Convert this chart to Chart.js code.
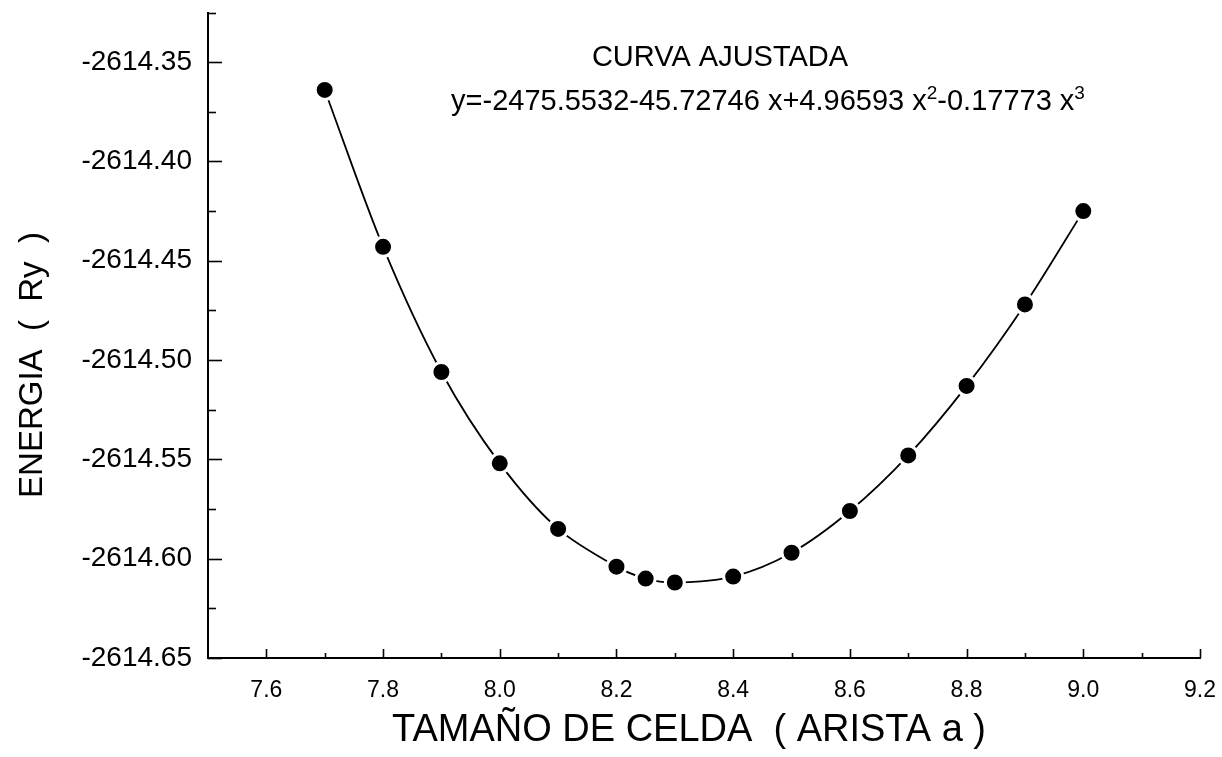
<!DOCTYPE html>
<html>
<head>
<meta charset="utf-8">
<script src="https://cdn.jsdelivr.net/npm/chart.js@4/dist/chart.umd.min.js"></script>
<style>
  html, body { margin: 0; padding: 0; background: #fff; }
  #wrap { width: 1222px; height: 757px; position: relative; }
</style>
</head>
<body>
<div id="wrap"><canvas id="c"></canvas></div>
<script>
// Cell size (lattice edge a) and total energy in Rydberg
const cellSize = [7.7, 7.8, 7.9, 8.0, 8.1, 8.2, 8.25, 8.3, 8.4, 8.5, 8.6, 8.7, 8.8, 8.9, 9.0];
const energy = [-2614.364, -2614.443, -2614.506, -2614.552, -2614.585, -2614.604, -2614.610,
                -2614.612, -2614.609, -2614.597, -2614.576, -2614.548, -2614.513, -2614.472, -2614.425];

// Axis tick labels
const xTicks = [7.6, 7.8, 8.0, 8.2, 8.4, 8.6, 8.8, 9.0, 9.2];
const yTicks = [-2614.65, -2614.60, -2614.55, -2614.50, -2614.45, -2614.40, -2614.35];

// Texts
const xTitle = 'TAMAÑO DE CELDA  ( ARISTA a )';
const yTitle = 'ENERGIA  (  Ry  )';
const fitTitle = 'CURVA AJUSTADA';
// [text, isSuperscript]
const fitEquation = [
  ['y=-2475.5532-45.72746 x+4.96593 x', false], ['2', true],
  ['-0.17773 x', false], ['3', true]
];

const FONT = '"Liberation Sans", Arial, Helvetica, sans-serif';

// Inward tick marks (major + minor), axis titles and the fitted-curve note
const axisDecor = {
  id: 'axisDecor',
  afterDraw(chart) {
    const { ctx, scales: { x, y } } = chart;
    ctx.save();
    ctx.strokeStyle = '#000';
    ctx.lineWidth = 1.6;
    ctx.lineCap = 'butt';

    const left = x.left, bottom = y.bottom;
    // y-axis ticks pointing right
    const yHalf = (yTicks[1] - yTicks[0]) / 2;
    yTicks.forEach(v => {
      const py = Math.round(y.getPixelForValue(v)) + 0.5;
      ctx.beginPath(); ctx.moveTo(left, py); ctx.lineTo(left + 14, py); ctx.stroke();
      const m = v + yHalf;
      if (m <= y.max + 1e-9) {
        const pm = Math.round(y.getPixelForValue(m)) + 0.5;
        ctx.beginPath(); ctx.moveTo(left, pm); ctx.lineTo(left + 8, pm); ctx.stroke();
      }
    });
    // x-axis ticks pointing up
    const xHalf = (xTicks[1] - xTicks[0]) / 2;
    xTicks.forEach(v => {
      const px = Math.round(x.getPixelForValue(v)) + 0.5;
      ctx.beginPath(); ctx.moveTo(px, bottom); ctx.lineTo(px, bottom - 9); ctx.stroke();
      const m = v - xHalf;
      if (m > x.min + 1e-9) {
        const pm = Math.round(x.getPixelForValue(m)) + 0.5;
        ctx.beginPath(); ctx.moveTo(pm, bottom); ctx.lineTo(pm, bottom - 5); ctx.stroke();
      }
    });

    ctx.fillStyle = '#000';
    ctx.textAlign = 'center';
    ctx.textBaseline = 'middle';

    // axis titles
    ctx.font = '38px ' + FONT;
    ctx.fillText(xTitle, 689, 731);

    ctx.save();
    ctx.translate(33, 365);
    ctx.rotate(-Math.PI / 2);
    ctx.font = '33px ' + FONT;
    ctx.fillText(yTitle, 0, 0);
    ctx.restore();

    // fitted curve note
    ctx.font = '29px ' + FONT;
    ctx.fillText(fitTitle, 720, 58);

    const base = 29, sup = 19;
    let total = 0;
    fitEquation.forEach(([t, s]) => {
      ctx.font = (s ? sup : base) + 'px ' + FONT;
      total += ctx.measureText(t).width;
    });
    let cx = 768 - total / 2;
    ctx.textAlign = 'left';
    ctx.textBaseline = 'alphabetic';
    fitEquation.forEach(([t, s]) => {
      ctx.font = (s ? sup : base) + 'px ' + FONT;
      ctx.fillText(t, cx, s ? 99 : 110);
      cx += ctx.measureText(t).width;
    });
    ctx.restore();
  }
};

new Chart(document.getElementById('c'), {
  type: 'line',
  data: {
    datasets: [{
      data: cellSize.map((v, i) => ({ x: v, y: energy[i] })),
      borderColor: '#000',
      borderWidth: 1.8,
      tension: 0.3,
      fill: false,
      pointRadius: 9.5,
      pointBackgroundColor: '#000',
      pointBorderColor: '#fff',
      pointBorderWidth: 3
    }]
  },
  options: {
    responsive: true,
    maintainAspectRatio: false,
    animation: false,
    layout: { padding: { top: 11, right: 22, left: 0, bottom: 0 } },
    plugins: { legend: { display: false }, tooltip: { enabled: false } },
    scales: {
      x: {
        type: 'linear',
        min: 7.5,
        max: 9.2,
        afterBuildTicks: s => { s.ticks = xTicks.map(v => ({ value: v })); },
        afterFit: s => { s.height = 99; s.paddingLeft = 0; s.paddingRight = 0; },
        grid: { drawOnChartArea: false, drawTicks: false },
        border: { display: true, color: '#000', width: 2 },
        ticks: {
          color: '#000',
          font: { family: FONT, size: 23 },
          padding: 19,
          maxRotation: 0,
          autoSkip: false,
          callback: v => Number(v).toFixed(1)
        }
      },
      y: {
        type: 'linear',
        min: -2614.65,
        max: -2614.325,
        afterBuildTicks: s => { s.ticks = yTicks.map(v => ({ value: v })); },
        afterFit: s => { s.width = 208; s.paddingTop = 0; s.paddingBottom = 0; },
        grid: { drawOnChartArea: false, drawTicks: false },
        border: { display: true, color: '#000', width: 2 },
        ticks: {
          color: '#000',
          font: { family: FONT, size: 28 },
          padding: 16,
          autoSkip: false,
          callback: v => Number(v).toFixed(2)
        }
      }
    }
  },
  plugins: [axisDecor]
});
</script>
</body>
</html>
